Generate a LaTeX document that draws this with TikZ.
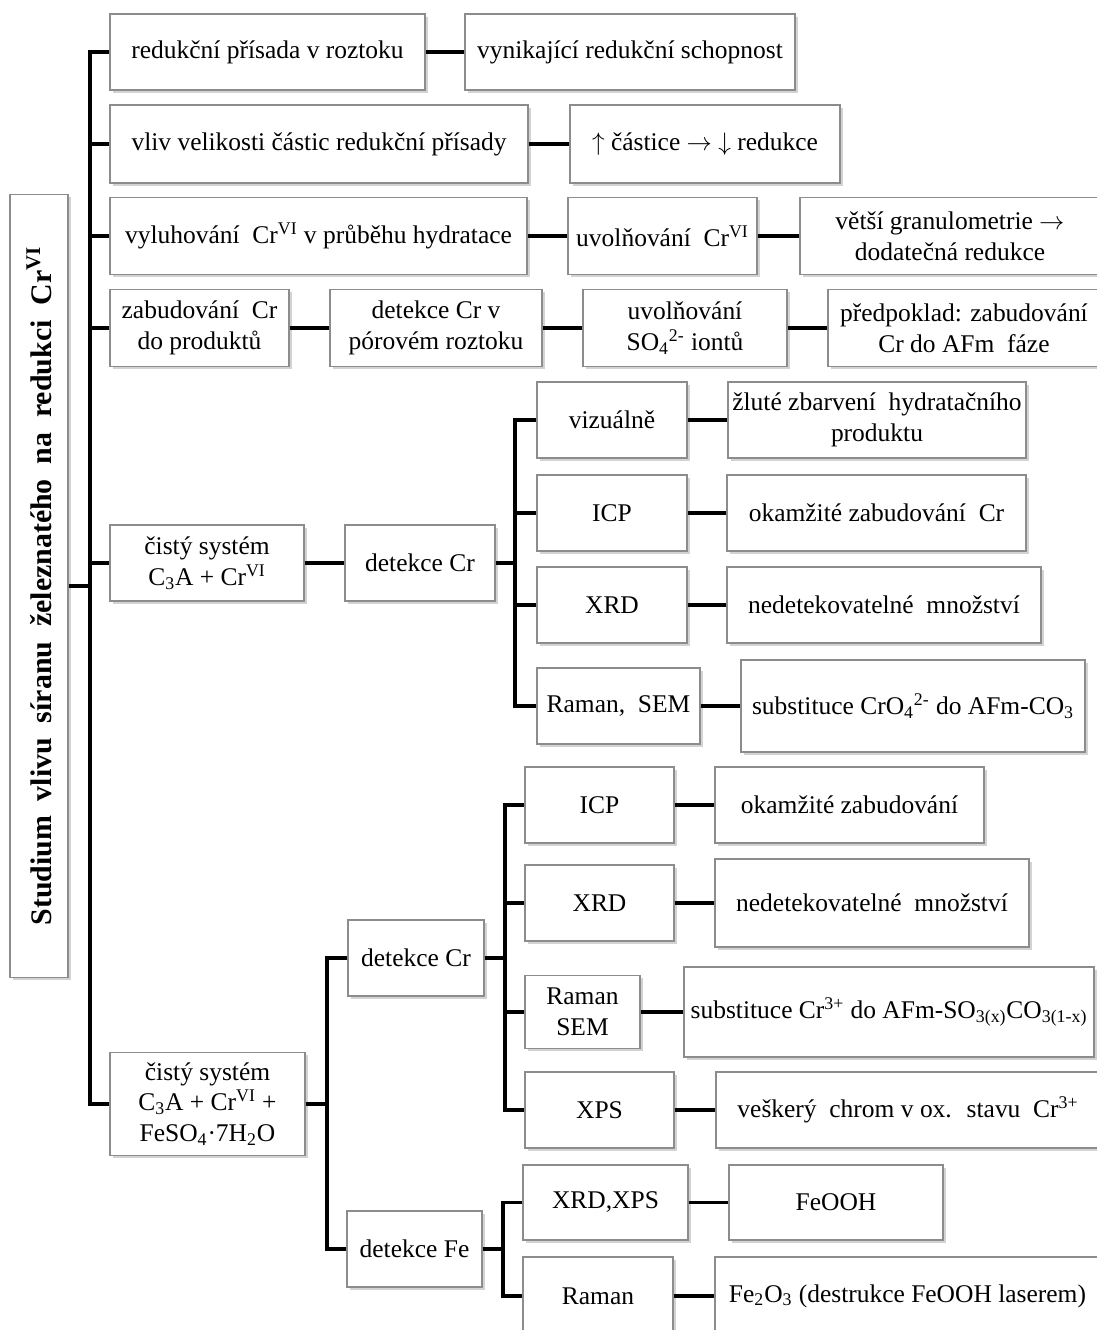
\documentclass[tikz,border=0pt]{standalone}
\usepackage{fontspec}
\setmainfont{Liberation Serif}
\usetikzlibrary{shadows}

\tikzset{
  box/.style={draw=black!45, line width=0.7pt, fill=white, align=center, inner sep=1.5pt,
    minimum height=1.52cm, font=\fontsize{14.5}{17.5}\selectfont,
    drop shadow={opacity=0.35, shadow xshift=1.5pt, shadow yshift=-1.5pt}},
  link/.style={line width=2.2pt}
}

\begin{document}
\begin{tikzpicture}[x=0.02cm,y=-0.02cm]
        \useasboundingbox (0,0) rectangle (1097,1330);
        % root
        \node[box, rotate=90, minimum width=15.66cm, minimum height=1.16cm, font=\fontsize{17}{20}\selectfont\bfseries] (root) at (39,586) {Studium~ vlivu~ síranu~ železnatého~ na~ redukci~ Cr\textsuperscript{VI}};
        % first rows
        \node[box, minimum width=6.3cm] (a1) at (267.5,52) {redukční přísada v roztoku};
        \node[box, minimum width=6.6cm] (a2) at (630,52) {vynikající redukční schopnost};
        \node[box, minimum width=8.36cm, minimum height=1.56cm] (b1) at (319,144) {vliv velikosti částic redukční přísady};
        \node[box, minimum width=5.4cm, minimum height=1.56cm] (b2) at (705,144) {$\uparrow$ částice $\rightarrow$ $\downarrow$ redukce};
        \node[box, minimum width=8.34cm, minimum height=1.54cm] (c1) at (318.5,236) {vyluhování~ Cr\textsuperscript{VI} v průběhu hydratace};
        \node[box, minimum width=3.78cm, minimum height=1.54cm] (c2) at (662.5,236) {uvolňování~ Cr\textsuperscript{VI}};
        \node[box, minimum width=6.0cm, minimum height=1.54cm] (c3) at (950,236) {větší granulometrie $\rightarrow$\\ dodatečná redukce};
        \node[box, minimum width=3.58cm, minimum height=1.54cm] (d1) at (199.5,328) {zabudování~ Cr\\ do produktů};
        \node[box, minimum width=4.24cm, minimum height=1.54cm] (d2) at (436,328) {detekce Cr v\\ pórovém roztoku};
        \node[box, minimum width=4.08cm, minimum height=1.54cm] (d3) at (685,328) {uvolňování\\ SO\textsubscript{4}\textsuperscript{2-} iontů};
        \node[box, minimum width=5.44cm, minimum height=1.54cm] (d4) at (964,328) {předpoklad: zabudování\\ Cr do AFm~ fáze};
        % C3A + Cr
        \node[box, minimum width=3.88cm] (e) at (207,563) {čistý systém\\ C\textsubscript{3}A + Cr\textsuperscript{VI}};
        \node[box, minimum width=3.0cm] (f) at (420,563) {detekce Cr};
        \node[box, minimum width=3.0cm] (g1) at (612,420) {vizuálně};
        \node[box, minimum width=5.96cm] (h1) at (877,420) {žluté zbarvení~ hydratačního\\ produktu};
        \node[box, minimum width=3.0cm] (g2) at (612,513) {ICP};
        \node[box, minimum width=5.98cm] (h2) at (876.5,513) {okamžité zabudování~ Cr};
        \node[box, minimum width=3.0cm] (g3) at (612,605) {XRD};
        \node[box, minimum width=6.28cm] (h3) at (884,605) {nedetekovatelné~ množství};
        \node[box, minimum width=3.26cm] (g4) at (618.5,706) {Raman,~ SEM};
        \node[box, minimum width=6.88cm, minimum height=1.84cm] (h4) at (913,706) {substituce CrO\textsubscript{4}\textsuperscript{2-} do AFm-CO\textsubscript{3}};
        % C3A + Cr + FeSO4
        \node[box, minimum width=3.9cm, minimum height=2.06cm] (i) at (207.5,1104) {čistý systém\\ C\textsubscript{3}A + Cr\textsuperscript{VI} +\\ FeSO\textsubscript{4}·7H\textsubscript{2}O};
        \node[box, minimum width=2.72cm] (j1) at (416,958) {detekce Cr};
        \node[box, minimum width=2.7cm] (j2) at (414.5,1249) {detekce Fe};
        \node[box, minimum width=2.98cm] (k1) at (599.5,805) {ICP};
        \node[box, minimum width=5.38cm] (l1) at (849.5,805) {okamžité zabudování};
        \node[box, minimum width=2.98cm] (k2) at (599.5,903) {XRD};
        \node[box, minimum width=6.28cm, minimum height=1.76cm] (l2) at (872,903) {nedetekovatelné~ množství};
        \node[box, minimum width=2.3cm, minimum height=1.46cm] (k3) at (582.5,1012) {Raman\\ SEM};
        \node[box, minimum width=8.2cm, minimum height=1.8cm] (l3) at (889,1012) {substituce Cr\textsuperscript{3+} do AFm-SO\textsubscript{3(x)}CO\textsubscript{3(1-x)}};
        \node[box, minimum width=2.98cm] (k4) at (599.5,1110) {XPS};
        \node[box, minimum width=7.68cm] (l4) at (908,1110) {veškerý~ chrom v ox.~ stavu~ Cr\textsuperscript{3+}};
        \node[box, minimum width=3.3cm, minimum height=1.5cm] (m1) at (605.5,1202.5) {XRD,XPS};
        \node[box, minimum width=4.28cm, minimum height=1.5cm] (n1) at (836,1202.5) {FeOOH};
        \node[box, minimum width=3.0cm, minimum height=1.56cm] (m2) at (598,1296) {Raman};
        \node[box, minimum width=7.7cm, minimum height=1.56cm] (n2) at (907.5,1296) {Fe\textsubscript{2}O\textsubscript{3} (destrukce FeOOH laserem)};
        % trunk
        \coordinate (t0) at (90,586);
        \draw[link] (root.south) -- (t0);
        \draw[link] (a1.west) -| (t0) |- (i.west);
        \foreach \n in {b1,c1,d1,e} \draw[link] (t0 |- \n.west) -- (\n.west);
        \draw[link] (a1.east) -- (a2.west);
        \draw[link] (b1.east) -- (b2.west);
        \draw[link] (c1.east) -- (c2.west) (c2.east) -- (c3.west);
        \draw[link] (d1.east) -- (d2.west) (d2.east) -- (d3.west) (d3.east) -- (d4.west);
        \draw[link] (e.east) -- (f.west);
        % branches of detekce Cr
        \coordinate (t1) at (515,563);
        \draw[link] (f.east) -- (t1);
        \draw[link] (g1.west) -| (t1) |- (g4.west);
        \foreach \n in {g2,g3} \draw[link] (t1 |- \n.west) -- (\n.west);
        \foreach \n/\m in {g1/h1,g2/h2,g3/h3,g4/h4} \draw[link] (\n.east) -- (\m.west);
        % FeSO4 system
        \coordinate (t2) at (327,1104);
        \draw[link] (i.east) -- (t2);
        \draw[link] (j1.west) -| (t2) |- (j2.west);
        \coordinate (t3) at (505,958);
        \draw[link] (j1.east) -- (t3);
        \draw[link] (k1.west) -| (t3) |- (k4.west);
        \foreach \n in {k2,k3} \draw[link] (t3 |- \n.west) -- (\n.west);
        \foreach \n/\m in {k1/l1,k2/l2,k3/l3,k4/l4} \draw[link] (\n.east) -- (\m.west);
        \coordinate (t4) at (503,1249);
        \draw[link] (j2.east) -- (t4);
        \draw[link] (m1.west) -| (t4) |- (m2.west);
        \draw[link] (m1.east) -- (n1.west) (m2.east) -- (n2.west);
\end{tikzpicture}
\end{document}
